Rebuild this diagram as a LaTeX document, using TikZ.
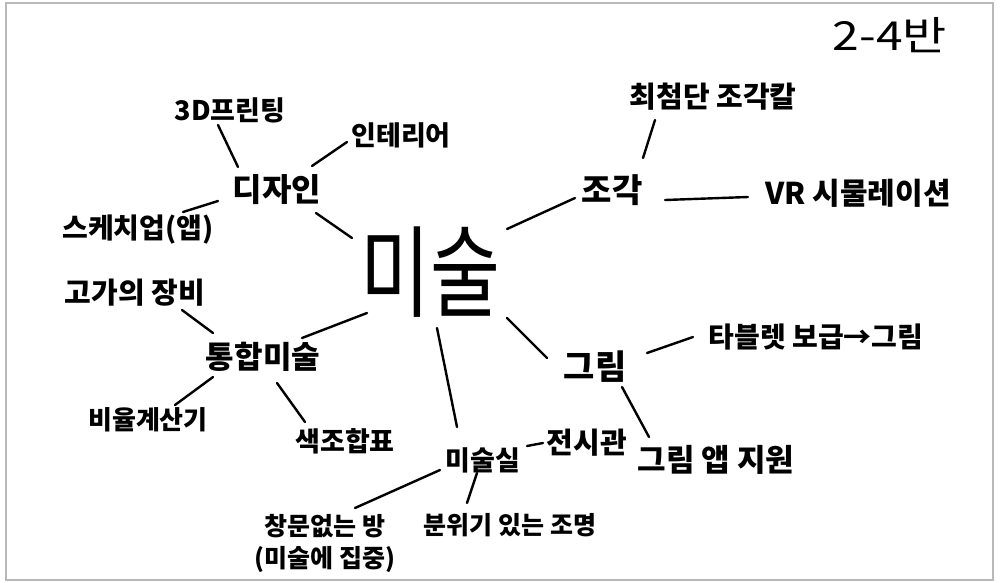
\documentclass[tikz,border=0pt]{standalone}
\usepackage{fontspec}
\usepackage{graphicx}
\newfontfamily\kr{Noto Sans CJK KR}
\usetikzlibrary{calc}
\begin{document}
\begin{tikzpicture}[x=1pt,y=-1pt,
  lbl/.style={font=\kr\bfseries\fontsize{#1}{32}\selectfont, inner sep=0pt, align=center},
  lbl/.default=28,
  big/.style={font=\kr\fontsize{100}{110}\selectfont, inner sep=0pt},
  ttl/.style={font=\kr\fontsize{40}{44}\selectfont, inner sep=0pt},
  link/.style={line width=2.4pt, line cap=round, black}]
\useasboundingbox (0,0) rectangle (1000,582);
\draw[gray!55, line width=2pt] (6,3) rectangle (993,580);

\node[ttl] (ttl) at (890,35) {\scalebox{1.2}[1]{2-4반}};
\node[big] (mi) at (430,272) {\scalebox{0.76}[1]{미술}};
\node[lbl=32] (dz) at (277,190) {디자인};
\node[lbl=27] (p3d) at (230,110) {3D프린팅};
\node[lbl=27] (int) at (401,135) {인테리어};
\node[lbl=28] (sk) at (138,230) {스케치업(앱)};
\node[lbl=33] (jg) at (612,190) {조각};
\node[lbl=29] (cc) at (713,97) {최첨단 조각칼};
\node[lbl=30] (vr) at (858,193) {VR 시물레이션};
\node[lbl=31] (th) at (263,357) {통합미술};
\node[lbl=29] (gg) at (135,293) {고가의 장비};
\node[lbl=26] (br) at (148,420) {비율계산기};
\node[lbl=27] (sj) at (345,441) {색조합표};
\node[lbl=27] (ms) at (483,460) {미술실};
\node[lbl=29] (js) at (587,443) {전시관};
\node[lbl=34] (gr) at (595,367) {그림};
\node[lbl=28] (tb) at (816,337) {타블렛 보급→그림};
\node[lbl=31] (ga) at (716,460) {그림 앱 지원};
\node[lbl=25] (bw) at (510,525) {분위기 있는 조명};
\node[lbl=25] (cm) at (325,543) {창문없는 방\\(미술에 집중)};

\draw[link] ($(p3d)+(-12,15)$) -- ($(dz)+(-39,-23)$);
\draw[link] ($(int)+(-54,7)$) -- ($(dz)+(35,-24)$);
\draw[link] ($(sk)+(45,-18)$) -- ($(dz)+(-59,11)$);
\draw[link] ($(dz)+(39,23)$) -- ($(mi)+(-78,-34)$);
\draw[link] ($(cc)+(-58,23)$) -- ($(jg)+(31,-32)$);
\draw[link] ($(jg)+(-37,8)$) -- ($(mi)+(77,-43)$);
\draw[link] ($(jg)+(53,10)$) -- ($(vr)+(-110,4)$);
\draw[link] ($(gg)+(47,17)$) -- ($(th)+(-50,-24)$);
\draw[link] ($(th)+(39,-19)$) -- ($(mi)+(-63,41)$);
\draw[link] ($(th)+(-50,20)$) -- ($(br)+(27,-15)$);
\draw[link] ($(th)+(14,26)$) -- ($(sj)+(-40,-19)$);
\draw[link] ($(mi)+(7,56)$) -- ($(ms)+(-26,-33)$);
\draw[link] ($(ms)+(-43,10)$) -- ($(cm)+(30,-35)$);
\draw[link] ($(ms)+(-6,13)$) -- ($(bw)+(-43,-22)$);
\draw[link] ($(ms)+(44,-14)$) -- ($(js)+(-44,0)$);
\draw[link] ($(mi)+(77,46)$) -- ($(gr)+(-48,-9)$);
\draw[link] ($(gr)+(52,-14)$) -- ($(tb)+(-123,0)$);
\draw[link] ($(gr)+(27,20)$) -- ($(ga)+(-67,-23)$);
\end{tikzpicture}
\end{document}
